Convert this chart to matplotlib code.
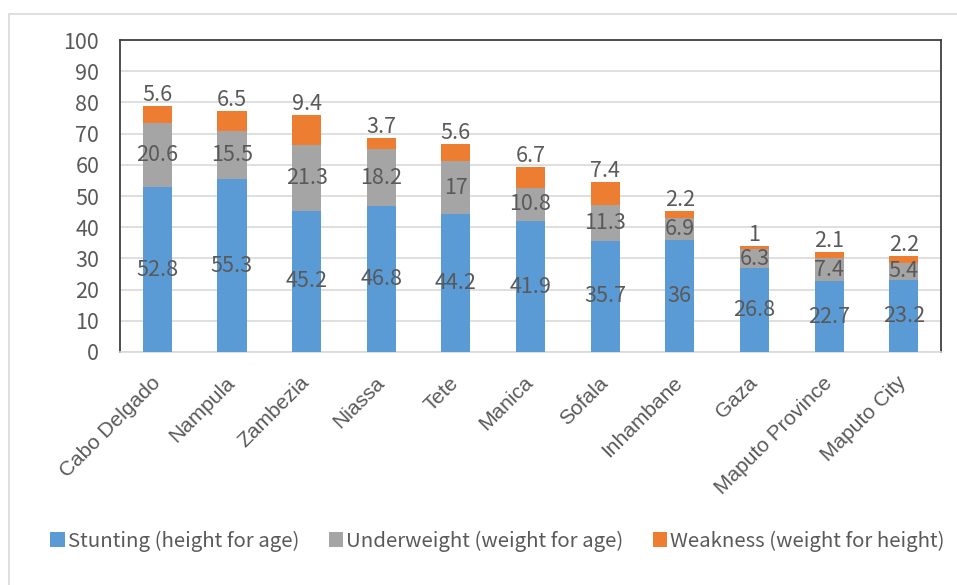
import matplotlib
matplotlib.use("Agg")
import matplotlib.pyplot as plt
from matplotlib.patches import Rectangle
import numpy as np

provinces = ["Cabo Delgado", "Nampula", "Zambezia", "Niassa", "Tete", "Manica",
             "Sofala", "Inhambane", "Gaza", "Maputo Province", "Maputo City"]
stunting = [52.8, 55.3, 45.2, 46.8, 44.2, 41.9, 35.7, 36, 26.8, 22.7, 23.2]
underweight = [20.6, 15.5, 21.3, 18.2, 17, 10.8, 11.3, 6.9, 6.3, 7.4, 5.4]
weakness = [5.6, 6.5, 9.4, 3.7, 5.6, 6.7, 7.4, 2.2, 1, 2.1, 2.2]

series_names = ["Stunting (height for age)", "Underweight (weight for age)",
                "Weakness (weight for height)"]
colors = ["#5B9BD5", "#A5A5A5", "#ED7D31"]
text_color = "#595959"

plt.rcParams["font.family"] = ["Noto Sans CJK JP", "DejaVu Sans"]

fig = plt.figure(figsize=(9.57, 5.85), dpi=100)
ax = fig.add_axes([0.1254, 0.3983, 0.8579, 0.5333])

# light outer frame around the chart area
fig.patches.append(Rectangle((9 / 957, -0.05), 1.0, 1.05 - 14 / 585,
                             transform=fig.transFigure, fill=False,
                             edgecolor="#d9d9d9", linewidth=1.2))

x = np.arange(len(provinces))
width = 0.39
s = np.array(stunting)
u = np.array(underweight)
w = np.array(weakness)

ax.bar(x, s, width, color=colors[0], label=series_names[0], zorder=3)
ax.bar(x, u, width, bottom=s, color=colors[1], label=series_names[1], zorder=3)
ax.bar(x, w, width, bottom=s + u, color=colors[2], label=series_names[2], zorder=3)

fs = 15.5
for i in range(len(x)):
    ax.text(x[i], s[i] / 2, f"{stunting[i]:g}", ha="center", va="center",
            fontsize=fs, color=text_color, zorder=4)
    ax.text(x[i], s[i] + u[i] / 2, f"{underweight[i]:g}", ha="center", va="center",
            fontsize=fs, color=text_color, zorder=4)
    ax.text(x[i], s[i] + u[i] + w[i] + 3.5, f"{weakness[i]:g}", ha="center",
            va="center", fontsize=fs, color=text_color, zorder=4)

ax.set_xlim(-0.5, len(x) - 0.5)
ax.set_ylim(0, 100)
ax.set_yticks(range(0, 101, 10))
ax.yaxis.grid(True, color="#d9d9d9", linewidth=1.2, zorder=0)
ax.set_axisbelow(True)
ax.tick_params(axis="y", length=0, pad=15, labelsize=fs, labelcolor=text_color)
ax.tick_params(axis="x", length=0, pad=20, labelcolor=text_color)
ax.set_xticks(x)
ax.set_xticklabels(provinces, rotation=45, ha="right", va="center",
                   rotation_mode="anchor", fontsize=15,
                   family=["Liberation Sans", "DejaVu Sans"])

for side in ("left", "top", "right"):
    ax.spines[side].set_color("#404040")
    ax.spines[side].set_linewidth(1.3)
ax.spines["bottom"].set_color("#d9d9d9")
ax.spines["bottom"].set_linewidth(1.2)

fig.legend(loc="center", bbox_to_anchor=(0.52, 0.0752), ncol=3, frameon=False,
           fontsize=14.7, handlelength=0.7, handleheight=0.7, handletextpad=0.15,
           columnspacing=1.45, labelcolor=text_color)

fig.savefig("out.png", dpi=100)
